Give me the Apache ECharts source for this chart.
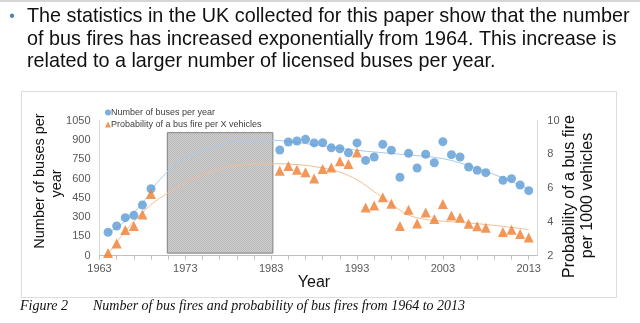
<!DOCTYPE html>
<html>
<head>
<meta charset="utf-8">
<script src="https://cdn.jsdelivr.net/npm/echarts@6/dist/echarts.min.js"></script>
<style>html,body{margin:0;padding:0;background:#fff;}#c{width:640px;height:323px;}</style>
</head>
<body>
<div id="c"></div>
<script>
// ---- data ----
const busYears = [1964,1965,1966,1967,1968,1969,1984,1985,1986,1987,1988,1989,1990,1991,1992,1993,1994,1995,1996,1997,1998,1999,2000,2001,2002,2003,2004,2005,2006,2007,2008,2010,2011,2012,2013];
const busCounts = [182,231,296,314,394,521,822,884,892,905,877,879,839,832,800,877,741,768,866,821,610,796,682,789,723,887,786,768,690,664,646,586,599,550,506];
const fireProb = [2.16,2.73,3.52,3.76,4.44,5.65,7.03,7.32,7.09,6.94,6.57,7.14,7.23,7.60,7.43,8.12,4.85,4.98,5.47,5.08,3.76,4.73,3.91,4.56,4.17,5.07,4.38,4.26,3.90,3.74,3.66,3.41,3.54,3.29,3.08];
const busTrendYears = [1964,1966,1968,1970,1973,1977,1980,1983,1986,1990,1993,1997,2000,2003,2006,2010,2013];
const busTrendVals = [175,270,410,590,760,860,895,898,880,845,820,795,778,755,700,605,516];
const probTrendYears = [1964,1966,1968,1970,1975,1980,1983,1986,1989,1991,1993,1995,1996,1998,1999,2001,2003,2008,2013];
const probTrendVals = [2.1,3.45,4.55,5.4,6.8,7.4,7.45,7.4,7.2,6.95,6.5,5.8,5.45,4.7,4.4,4.15,4.05,3.85,3.55];
const xTickLabels = [1963,1973,1983,1993,2003,2013];
const leftTicks = [0,150,300,450,600,750,900,1050];
const rightTicks = [2,4,6,8,10];

const blue = '#5B9BD5', orange = '#ED7D31';
const zip = (a,b) => a.map((v,i)=>[v,b[i]]);

// hatched fill for the gap box
const pc = document.createElement('canvas'); pc.width = 2; pc.height = 2;
const pctx = pc.getContext('2d');
pctx.fillStyle = '#cfcfcf'; pctx.fillRect(0,0,2,2);
pctx.fillStyle = '#b9b9b9'; pctx.fillRect(0,0,1,1); pctx.fillRect(1,1,1,1);

const chart = echarts.init(document.getElementById('c'), null, {renderer:'canvas'});
const axisTxt = {color:'#595959', fontSize:11, fontFamily:'Liberation Sans, Arial'};
chart.setOption({
  animation:false,
  backgroundColor:'#fff',
  grid:{left:99.5, right:102.7, top:120.7, bottom:67.3, containLabel:false},
  legend:{
    orient:'vertical', left:100, top:103, itemWidth:6, itemHeight:6, itemGap:3,
    textStyle:{color:'#404040', fontSize:9, fontFamily:'Liberation Sans, Arial', padding:[0,0,0,-5]},
    data:[{name:'Number of buses per year', icon:'circle'},{name:'Probability of a bus fire per X vehicles', icon:'triangle'}]
  },
  xAxis:{
    type:'value', min:1963, max:2014, interval:2,
    axisLine:{show:true, lineStyle:{color:'#bfbfbf'}},
    axisTick:{show:true, length:4, lineStyle:{color:'#bfbfbf'}},
    splitLine:{show:false},
    axisLabel:Object.assign({margin:8, showMaxLabel:false, formatter:v => xTickLabels.indexOf(v) >= 0 ? String(v) : ''}, axisTxt)
  },
  yAxis:[
    {type:'value', min:leftTicks[0], max:leftTicks[leftTicks.length-1], interval:150,
     axisLine:{show:true, lineStyle:{color:'#d9d9d9'}}, axisTick:{show:false}, splitLine:{show:false},
     axisLabel:Object.assign({margin:9, formatter:v => String(v)}, axisTxt)},
    {type:'value', min:rightTicks[0], max:rightTicks[rightTicks.length-1], interval:2,
     axisLine:{show:true, lineStyle:{color:'#d9d9d9'}}, axisTick:{show:false}, splitLine:{show:false},
     axisLabel:Object.assign({margin:10, formatter:v => String(v)}, axisTxt)}
  ],
  series:[
    {name:'busTrend', type:'line', yAxisIndex:0, data:zip(busTrendYears,busTrendVals), smooth:0.4, showSymbol:false, symbol:'none',
     lineStyle:{color:'#A9CBEA', width:1}, silent:true, z:1},
    {name:'probTrend', type:'line', yAxisIndex:1, data:zip(probTrendYears,probTrendVals), smooth:0.4, showSymbol:false, symbol:'none',
     lineStyle:{color:'#F5BC94', width:1}, silent:true, z:1},
    {name:'Number of buses per year', type:'scatter', yAxisIndex:0, data:zip(busYears,busCounts), symbol:'circle', symbolSize:9,
     itemStyle:{color:blue}, z:3},
    {name:'Probability of a bus fire per X vehicles', type:'scatter', yAxisIndex:1, data:zip(busYears,fireProb), symbol:'triangle', symbolSize:10,
     itemStyle:{color:orange}, z:3},
    {name:'gap', type:'line', yAxisIndex:0, data:[], z:10, silent:true,
     markArea:{silent:true, itemStyle:{color:{image:pc, repeat:'repeat'}, borderColor:'#808080', borderWidth:1},
       data:[[{xAxis:1970.9, yAxis:957},{xAxis:1983.2, yAxis:20}]]}}
  ],
  graphic:[
    {type:'rect', shape:{x:0,y:0,width:640,height:2}, style:{fill:'#d6d6d6'}},
    {type:'text', x:12, y:17, style:{text:'•', font:'16px "Liberation Sans", Arial', fill:'#4F81BD', textAlign:'center', textVerticalAlign:'middle'}},
    {type:'text', x:27, y:17, style:{text:'The statistics in the UK collected for this paper show that the number', font:'19.8px "Liberation Sans", Arial', fill:'#111', textVerticalAlign:'middle'}},
    {type:'text', x:27, y:40, style:{text:'of bus fires has increased exponentially from 1964. This increase is', font:'19.8px "Liberation Sans", Arial', fill:'#111', textVerticalAlign:'middle'}},
    {type:'text', x:27, y:62, style:{text:'related to a larger number of licensed buses per year.', font:'19.8px "Liberation Sans", Arial', fill:'#111', textVerticalAlign:'middle'}},
    {type:'rect', shape:{x:21.5,y:91.5,width:595,height:206}, style:{fill:'none', stroke:'#dcdcdc', lineWidth:1}},
    {type:'text', x:40, y:181, rotation:Math.PI/2, style:{text:'Number of buses per', font:'14.5px "Liberation Sans", Arial', fill:'#111', textAlign:'center', textVerticalAlign:'middle'}},
    {type:'text', x:57, y:183.5, rotation:Math.PI/2, style:{text:'year', font:'14.5px "Liberation Sans", Arial', fill:'#111', textAlign:'center', textVerticalAlign:'middle'}},
    {type:'text', x:570, y:196.5, rotation:Math.PI/2, style:{text:'Probability of a bus fire', font:'16px "Liberation Sans", Arial', fill:'#111', textAlign:'center', textVerticalAlign:'middle'}},
    {type:'text', x:588, y:195.5, rotation:Math.PI/2, style:{text:'per 1000 vehicles', font:'16px "Liberation Sans", Arial', fill:'#111', textAlign:'center', textVerticalAlign:'middle'}},
    {type:'text', x:314, y:283, style:{text:'Year', font:'16px "Liberation Sans", Arial', fill:'#111', textAlign:'center', textVerticalAlign:'middle'}},
    {type:'text', x:20, y:306, style:{text:'Figure 2', font:'italic 14px "Liberation Serif", "Times New Roman"', fill:'#111', textVerticalAlign:'middle'}},
    {type:'text', x:93, y:306, style:{text:'Number of bus fires and probability of bus fires from 1964 to 2013', font:'italic 14px "Liberation Serif", "Times New Roman"', fill:'#111', textVerticalAlign:'middle'}}
  ]
});
</script>
</body>
</html>
